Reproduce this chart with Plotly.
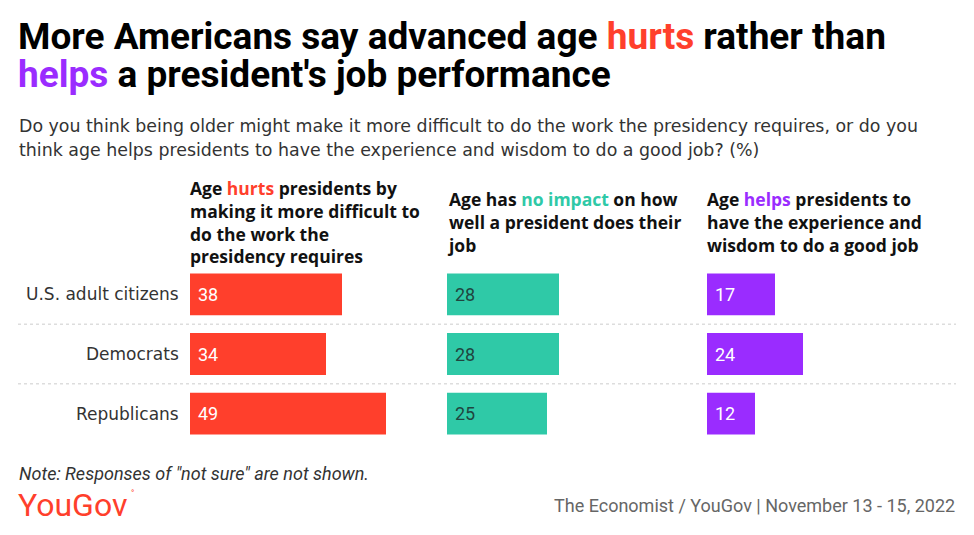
import plotly.graph_objects as go

# page body has an 8px margin; lay the figure out inside it
OFF = 8
W, H = 974 - 2 * OFF, 535 - 2 * OFF

groups = ["U.S. adult citizens", "Democrats", "Republicans"]
hurts = [38, 34, 49]
no_impact = [28, 28, 25]
helps = [17, 24, 12]

RED = "#ff3f2c"
GREEN = "#2fc9a7"
PURPLE = "#9a2cff"
TXT = "#333333"
SANS = "DejaVu Sans"
HEAD = "Open Sans"

headers = [
    "<b>Age <span style='color:%s'>hurts</span> presidents by<br>making it more difficult to<br>do the work the<br>presidency requires</b>" % RED,
    "<b>Age has <span style='color:%s'>no impact</span> on how<br>well a president does their<br>job</b>" % GREEN,
    "<b>Age <span style='color:%s'>helps</span> presidents to<br>have the experience and<br>wisdom to do a good job</b>" % PURPLE,
]

series = [hurts, no_impact, helps]
colors = [RED, GREEN, PURPLE]
label_colors = ["white", "#1f4640", "white"]


def px(x):
    return (x - OFF) / W


def py(y):
    return 1 - (y - OFF) / H


col_left = [190, 447, 707]
col_w = 240
xmax = 60

fig = go.Figure()
for i, (vals, c) in enumerate(zip(series, colors)):
    xa = "x" if i == 0 else "x%d" % (i + 1)
    fig.add_trace(go.Bar(
        x=vals, y=list(range(len(groups))), orientation="h",
        marker=dict(color=c, line=dict(width=0)), width=0.7,
        xaxis=xa, yaxis="y", hoverinfo="skip", showlegend=False,
    ))
    for j, v in enumerate(vals):
        fig.add_annotation(
            x=0, y=j, xref=xa, yref="y", text=str(v), showarrow=False,
            xanchor="left", yanchor="middle", xshift=6,
            font=dict(family="Roboto", size=18, color=label_colors[i]),
        )

layout_axes = {}
for i, left in enumerate(col_left):
    key = "xaxis" if i == 0 else "xaxis%d" % (i + 1)
    layout_axes[key] = dict(
        domain=[px(left), px(left + col_w)], range=[0, xmax],
        visible=False, fixedrange=True, anchor="y",
    )

fig.update_layout(
    width=W, height=H,
    margin=dict(l=0, r=0, t=0, b=0),
    paper_bgcolor="white", plot_bgcolor="white",
    yaxis=dict(domain=[py(443.5), py(264.5)], range=[2.5, -0.5],
               visible=False, fixedrange=True),
    **layout_axes,
)

# row labels
for j, g in enumerate(groups):
    fig.add_annotation(x=px(181), y=j, xref="paper", yref="y", text=g,
                       showarrow=False, xanchor="right", yanchor="middle",
                       font=dict(family=SANS, size=17, color=TXT))

# dotted separators
for j in range(len(groups) - 1):
    fig.add_shape(type="line", xref="paper", yref="y",
                  x0=px(18), x1=px(956), y0=j + 0.5, y1=j + 0.5,
                  line=dict(color="#cccccc", width=1, dash="dot"))

# column headers
for i, htxt in enumerate(headers):
    fig.add_annotation(x=px(col_left[i] - 2), y=py(222), xref="paper", yref="paper",
                       text=htxt, showarrow=False, xanchor="left", yanchor="middle",
                       align="left",
                       font=dict(family=HEAD, size=17.5, color="#111111"))

# title
fig.add_annotation(x=px(16), y=py(36), xref="paper", yref="paper",
                   text="<b>More Americans say advanced age <span style='color:%s'>hurts</span> rather than</b>" % RED,
                   showarrow=False, xanchor="left", yanchor="middle",
                   font=dict(family="Roboto", size=37, color="#000000"))
fig.add_annotation(x=px(16), y=py(74), xref="paper", yref="paper",
                   text="<b><span style='color:%s'>helps</span> a president's job performance</b>" % PURPLE,
                   showarrow=False, xanchor="left", yanchor="middle",
                   font=dict(family="Roboto", size=37, color="#000000"))

# subtitle
fig.add_annotation(x=px(17), y=py(126), xref="paper", yref="paper",
                   text="Do you think being older might make it more difficult to do the work the presidency requires, or do you",
                   showarrow=False, xanchor="left", yanchor="middle",
                   font=dict(family=SANS, size=17.4, color=TXT))
fig.add_annotation(x=px(17), y=py(150), xref="paper", yref="paper",
                   text="think age helps presidents to have the experience and wisdom to do a good job? (%)",
                   showarrow=False, xanchor="left", yanchor="middle",
                   font=dict(family=SANS, size=17.4, color=TXT))

# footer
fig.add_annotation(x=px(17), y=py(473), xref="paper", yref="paper",
                   text="<i>Note: Responses of \"not sure\" are not shown.</i>",
                   showarrow=False, xanchor="left", yanchor="middle",
                   font=dict(family="Roboto", size=18, color=TXT))
fig.add_annotation(x=px(16), y=py(505), xref="paper", yref="paper",
                   text="YouGov",
                   showarrow=False, xanchor="left", yanchor="middle",
                   font=dict(family="Roboto", size=32, color=RED))
fig.add_annotation(x=px(129), y=py(493), xref="paper", yref="paper",
                   text="°",
                   showarrow=False, xanchor="left", yanchor="middle",
                   font=dict(family="Roboto", size=9, color=RED))
fig.add_annotation(x=px(957), y=py(505), xref="paper", yref="paper",
                   text="The Economist / YouGov | November 13 - 15, 2022",
                   showarrow=False, xanchor="right", yanchor="middle",
                   font=dict(family="Roboto", size=18, color="#666666"))

fig.write_html("out.html")
